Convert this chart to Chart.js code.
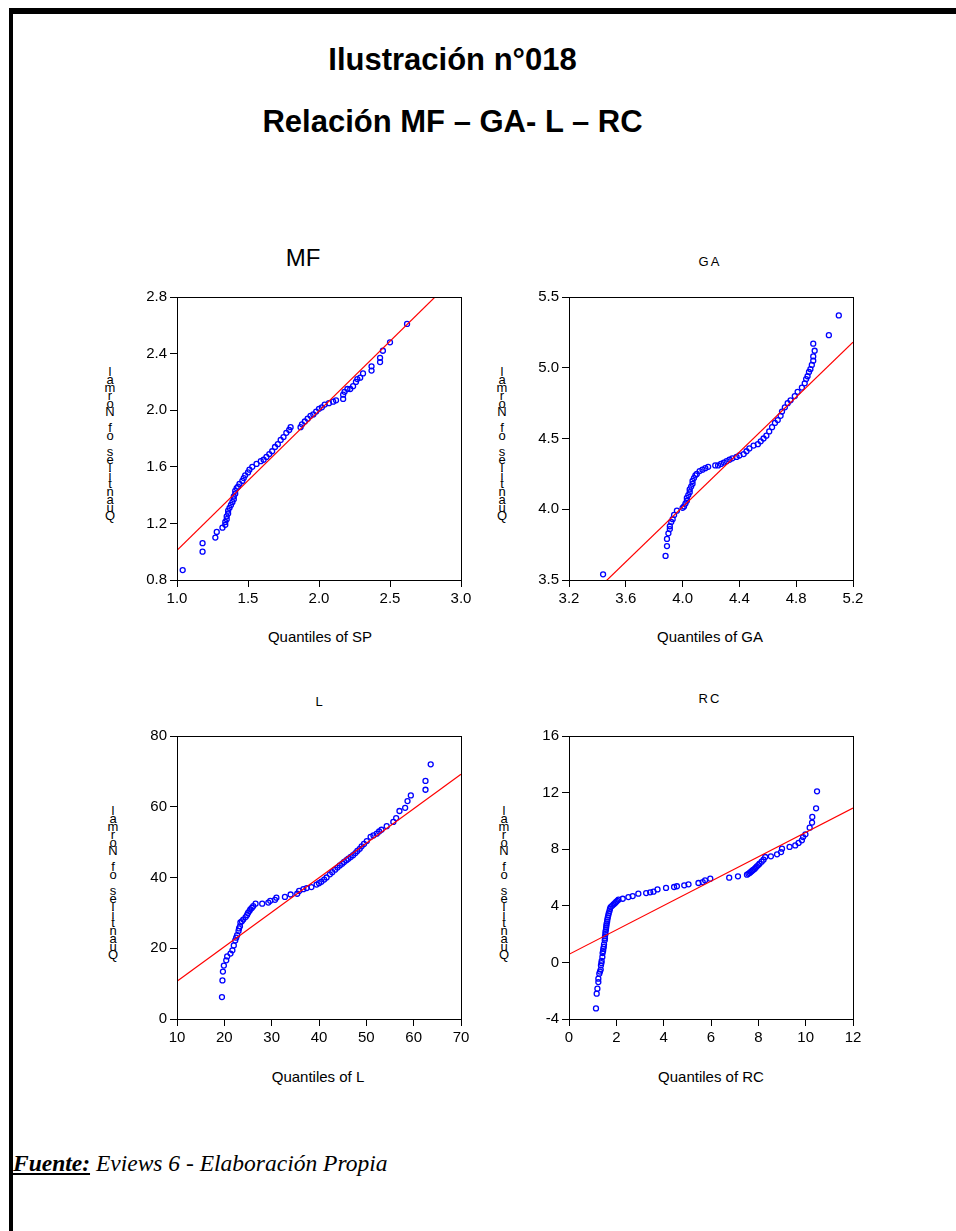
<!DOCTYPE html>
<html>
<head>
<meta charset="utf-8">
<script src="https://cdn.jsdelivr.net/npm/chart.js@4/dist/chart.umd.min.js"></script>
<style>
  body { margin: 0; background: #fff; width: 956px; height: 1231px; position: relative; overflow: hidden; font-family: 'Liberation Sans', Arial, sans-serif; }
  .frame-top { position: absolute; left: 9px; top: 8px; width: 947px; height: 6px; background: #000; }
  .frame-left { position: absolute; left: 9px; top: 8px; width: 4px; height: 1223px; background: #000; }
  .title { position: absolute; left: 0; width: 905px; text-align: center; font-weight: bold; font-size: 31px; line-height: 40px; color: #000; }
  .ptitle { position: absolute; width: 200px; text-align: center; color: #000; }
  .xtitle { position: absolute; width: 200px; text-align: center; font-size: 15px; line-height: 18px; color: #000; }
  .ytitle { position: absolute; width: 28px; text-align: center; font-size: 13px; line-height: 8px; white-space: pre; color: #000; }
  canvas { position: absolute; }
  .source { position: absolute; left: 13px; top: 1149px; font-family: 'Liberation Serif', 'Times New Roman', serif; font-style: italic; font-size: 23.5px; line-height: 28px; color: #000; }
  .source b { text-decoration: underline; }
</style>
</head>
<body>
<div class="frame-top"></div>
<div class="frame-left"></div>
<div class="title" style="top:40px">Ilustración n°018</div>
<div class="title" style="top:102px">Relación MF – GA- L – RC</div>

<div class="ptitle" style="left:203px;top:244px;font-size:24px;line-height:28px">MF</div>
<div class="ptitle" style="left:610px;top:253px;font-size:13px;line-height:18px;letter-spacing:2px">GA</div>
<div class="ptitle" style="left:219px;top:693px;font-size:13px;line-height:18px">L</div>
<div class="ptitle" style="left:610px;top:690px;font-size:13px;line-height:18px;letter-spacing:2px">RC</div>

<div class="xtitle" style="left:220px;top:628px">Quantiles of SP</div>
<div class="xtitle" style="left:610px;top:628px">Quantiles of GA</div>
<div class="xtitle" style="left:218px;top:1068px">Quantiles of L</div>
<div class="xtitle" style="left:611px;top:1068px">Quantiles of RC</div>

<div class="ytitle" style="left:96px;top:368px"></div>
<div class="ytitle" style="left:488px;top:368px"></div>
<div class="ytitle" style="left:99px;top:807px"></div>
<div class="ytitle" style="left:490px;top:807px"></div>

<canvas id="mfChart" width="364" height="338" style="left:117px;top:277px"></canvas>
<canvas id="gaChart" width="364" height="338" style="left:509px;top:277px"></canvas>
<canvas id="lChart" width="364" height="338" style="left:117px;top:716px"></canvas>
<canvas id="rcChart" width="364" height="338" style="left:509px;top:716px"></canvas>

<div class="source"><b>Fuente:</b> Eviews 6 - Elaboración Propia</div>

<script>
// MF: quantiles of SP (x) against quantiles of normal (y)
const mfSample = [1.04, 1.18, 1.18, 1.27, 1.28, 1.32, 1.34, 1.34, 1.35, 1.35, 1.36, 1.36, 1.37, 1.38, 1.39, 1.40, 1.40, 1.41, 1.41, 1.42, 1.43, 1.44, 1.46, 1.47, 1.48, 1.50, 1.51, 1.53, 1.56, 1.59, 1.61, 1.63, 1.65, 1.67, 1.69, 1.71, 1.73, 1.75, 1.77, 1.79, 1.80, 1.87, 1.88, 1.90, 1.92, 1.94, 1.96, 1.98, 2.00, 2.02, 2.04, 2.07, 2.10, 2.12, 2.17, 2.17, 2.18, 2.20, 2.22, 2.24, 2.26, 2.27, 2.29, 2.31, 2.37, 2.37, 2.43, 2.43, 2.45, 2.50, 2.62];
const mfNormal = [0.87, 1.00, 1.06, 1.10, 1.14, 1.17, 1.19, 1.21, 1.23, 1.25, 1.27, 1.29, 1.31, 1.33, 1.35, 1.37, 1.39, 1.41, 1.43, 1.45, 1.46, 1.48, 1.50, 1.52, 1.54, 1.56, 1.58, 1.60, 1.62, 1.64, 1.65, 1.67, 1.69, 1.71, 1.74, 1.76, 1.79, 1.81, 1.84, 1.86, 1.88, 1.88, 1.90, 1.92, 1.94, 1.96, 1.97, 1.99, 2.01, 2.02, 2.04, 2.05, 2.06, 2.07, 2.08, 2.11, 2.13, 2.15, 2.15, 2.17, 2.20, 2.22, 2.23, 2.26, 2.28, 2.31, 2.34, 2.37, 2.42, 2.48, 2.61];
const mfFitX = [1.0, 3.0];
const mfFitY = [1.01, 2.98];
const mfXTicks = [1.0, 1.5, 2.0, 2.5, 3.0];
const mfYTicks = [0.8, 1.2, 1.6, 2.0, 2.4, 2.8];

// GA
const gaSample = [3.44, 3.88, 3.89, 3.89, 3.90, 3.91, 3.91, 3.92, 3.93, 3.94, 3.96, 4.00, 4.01, 4.02, 4.03, 4.03, 4.04, 4.05, 4.05, 4.06, 4.07, 4.07, 4.08, 4.09, 4.10, 4.12, 4.14, 4.16, 4.18, 4.23, 4.25, 4.27, 4.29, 4.31, 4.33, 4.35, 4.38, 4.40, 4.43, 4.45, 4.47, 4.50, 4.53, 4.55, 4.57, 4.59, 4.61, 4.63, 4.65, 4.67, 4.69, 4.70, 4.72, 4.74, 4.76, 4.79, 4.81, 4.84, 4.86, 4.87, 4.88, 4.89, 4.90, 4.91, 4.92, 4.92, 4.93, 4.92, 5.03, 5.10];
const gaNormal = [3.54, 3.67, 3.74, 3.79, 3.83, 3.86, 3.88, 3.91, 3.93, 3.96, 3.99, 4.01, 4.02, 4.04, 4.06, 4.08, 4.10, 4.12, 4.14, 4.16, 4.18, 4.20, 4.22, 4.24, 4.25, 4.27, 4.28, 4.29, 4.30, 4.31, 4.31, 4.32, 4.33, 4.34, 4.35, 4.36, 4.37, 4.38, 4.39, 4.41, 4.43, 4.45, 4.46, 4.48, 4.50, 4.52, 4.55, 4.58, 4.61, 4.63, 4.66, 4.69, 4.72, 4.75, 4.77, 4.80, 4.83, 4.86, 4.89, 4.92, 4.94, 4.97, 4.99, 5.02, 5.05, 5.08, 5.12, 5.17, 5.23, 5.37];
const gaFitX = [3.2, 5.2];
const gaFitY = [3.24, 5.18];
const gaXTicks = [3.2, 3.6, 4.0, 4.4, 4.8, 5.2];
const gaYTicks = [3.5, 4.0, 4.5, 5.0, 5.5];

// L
const lSample = [19.5, 19.6, 19.7, 19.9, 20.4, 20.6, 21.3, 21.7, 22.0, 22.3, 22.5, 22.7, 23.0, 23.1, 23.3, 23.4, 23.7, 24.0, 24.5, 24.8, 25.0, 25.3, 25.5, 25.8, 26.1, 26.6, 28.0, 29.3, 29.7, 30.7, 31.0, 32.8, 34.0, 35.4, 35.8, 36.7, 37.4, 38.4, 39.5, 40.0, 40.5, 41.1, 41.6, 42.3, 42.8, 43.4, 43.9, 44.4, 44.9, 45.3, 45.8, 46.2, 46.7, 47.2, 47.7, 48.1, 48.6, 49.0, 49.5, 50.1, 50.9, 51.5, 52.2, 52.7, 53.2, 54.3, 55.7, 56.3, 57.0, 58.2, 58.7, 59.4, 62.5, 62.5, 63.6];
const lNormal = [6.2, 10.9, 13.4, 15.1, 16.6, 17.7, 18.5, 19.4, 20.8, 22.2, 23.0, 23.7, 24.9, 25.6, 26.2, 27.3, 27.6, 28.1, 28.8, 29.4, 30.0, 30.5, 31.0, 31.4, 31.9, 32.6, 32.6, 32.9, 33.4, 33.7, 34.3, 34.5, 35.2, 35.4, 36.2, 36.7, 37.0, 37.3, 38.0, 38.4, 38.8, 39.4, 40.0, 40.9, 41.5, 42.2, 42.8, 43.4, 43.9, 44.4, 44.9, 45.3, 45.8, 46.3, 46.9, 47.5, 48.1, 48.8, 49.5, 50.3, 51.5, 51.9, 52.4, 53.0, 53.5, 54.5, 55.7, 56.8, 58.8, 59.7, 61.6, 63.2, 64.8, 67.3, 72.0];
const lFitX = [10, 70];
const lFitY = [10.7, 69.2];
const lXTicks = [10, 20, 30, 40, 50, 60, 70];
const lYTicks = [0, 20, 40, 60, 80];

// RC
const rcSample = [1.14, 1.17, 1.20, 1.24, 1.24, 1.28, 1.31, 1.34, 1.35, 1.37, 1.38, 1.41, 1.42, 1.44, 1.45, 1.47, 1.48, 1.51, 1.52, 1.52, 1.54, 1.54, 1.56, 1.57, 1.58, 1.59, 1.61, 1.62, 1.64, 1.66, 1.68, 1.71, 1.73, 1.76, 1.82, 1.88, 1.94, 1.99, 2.04, 2.09, 2.27, 2.51, 2.69, 2.93, 3.26, 3.43, 3.57, 3.74, 4.10, 4.44, 4.56, 4.87, 5.05, 5.47, 5.65, 5.75, 5.97, 6.77, 7.14, 7.52, 7.58, 7.63, 7.68, 7.73, 7.78, 7.84, 7.89, 7.94, 8.00, 8.05, 8.14, 8.22, 8.29, 8.53, 8.79, 8.96, 9.00, 9.32, 9.56, 9.70, 9.84, 9.89, 9.99, 10.17, 10.27, 10.28, 10.44, 10.48];
const rcNormal = [-3.25, -2.21, -1.86, -1.39, -1.15, -0.80, -0.65, -0.51, -0.21, -0.05, 0.10, 0.38, 0.66, 0.80, 0.95, 1.10, 1.28, 1.56, 1.70, 1.84, 2.00, 2.15, 2.30, 2.46, 2.60, 2.74, 2.88, 3.02, 3.18, 3.33, 3.48, 3.63, 3.78, 3.91, 4.00, 4.10, 4.18, 4.27, 4.35, 4.43, 4.50, 4.62, 4.69, 4.86, 4.90, 4.95, 5.00, 5.16, 5.26, 5.33, 5.38, 5.45, 5.52, 5.61, 5.68, 5.80, 5.92, 5.99, 6.08, 6.20, 6.26, 6.32, 6.39, 6.46, 6.53, 6.60, 6.70, 6.79, 6.88, 6.98, 7.12, 7.26, 7.45, 7.50, 7.64, 7.80, 8.04, 8.16, 8.27, 8.44, 8.63, 8.86, 9.05, 9.52, 9.88, 10.28, 10.89, 12.09];
const rcFitX = [0, 12];
const rcFitY = [0.57, 10.91];
const rcXTicks = [0, 2, 4, 6, 8, 10, 12];
const rcYTicks = [-4, 0, 4, 8, 12, 16];

Chart.defaults.font.family = "'Liberation Sans', Arial, sans-serif";
Chart.defaults.font.size = 15;
Chart.defaults.color = '#000';

const boxPlugin = {
  id: 'plotBox',
  afterDraw(chart) {
    const { ctx, chartArea } = chart;
    ctx.save();
    ctx.strokeStyle = '#000';
    ctx.lineWidth = 1;
    ctx.strokeRect(Math.round(chartArea.left) + 0.5, Math.round(chartArea.top) + 0.5,
      Math.round(chartArea.right - chartArea.left), Math.round(chartArea.bottom - chartArea.top));
    ctx.restore();
  }
};

const toPoints = (xs, ys) => xs.map((x, i) => ({ x, y: ys[i] }));

const axis = (ticks, decimals, isX) => ({
  type: 'linear',
  min: ticks[0],
  max: ticks[ticks.length - 1],
  border: { display: true, color: '#000', width: 1 },
  grid: {
    drawOnChartArea: false,
    drawTicks: true,
    tickLength: 7,
    color: '#000'
  },
  ticks: {
    stepSize: ticks[1] - ticks[0],
    padding: 3,
    maxRotation: 0,
    autoSkip: false,
    callback(value) {
      return Number(value).toFixed(decimals);
    }
  },
  afterFit(scale) {
    if (isX) {
      scale.height = 35;
    } else {
      scale.width = 60;
    }
  }
});

function makeQQ(id, xs, ys, fitX, fitY, xTicks, yTicks, decimals) {
  const canvas = document.getElementById(id);
  return new Chart(canvas.getContext('2d'), {
    type: 'scatter',
    data: {
      datasets: [
        {
          type: 'line',
          data: toPoints(fitX, fitY),
          borderColor: '#ff0000',
          borderWidth: 1.2,
          pointRadius: 0,
          fill: false,
          tension: 0
        },
        {
          data: toPoints(xs, ys),
          borderColor: '#0000ff',
          backgroundColor: 'rgba(0,0,0,0)',
          borderWidth: 1.3,
          pointRadius: 2.5,
          pointHoverRadius: 2.5
        }
      ]
    },
    options: {
      responsive: false,
      animation: false,
      devicePixelRatio: 1,
      layout: {
        autoPadding: false,
        padding: { top: 20, right: 20, left: 0, bottom: 0 }
      },
      plugins: {
        legend: { display: false },
        tooltip: { enabled: false }
      },
      scales: {
        x: axis(xTicks, decimals, true),
        y: axis(yTicks, decimals, false)
      }
    },
    plugins: [boxPlugin]
  });
}

makeQQ('mfChart', mfSample, mfNormal, mfFitX, mfFitY, mfXTicks, mfYTicks, 1);
makeQQ('gaChart', gaSample, gaNormal, gaFitX, gaFitY, gaXTicks, gaYTicks, 1);
makeQQ('lChart', lSample, lNormal, lFitX, lFitY, lXTicks, lYTicks, 0);
makeQQ('rcChart', rcSample, rcNormal, rcFitX, rcFitY, rcXTicks, rcYTicks, 0);

// stacked y-axis caption, as Eviews prints it
const yCaption = 'Quantiles of Normal'.split('').reverse().join('\n');
document.querySelectorAll('.ytitle').forEach((el) => {
  el.textContent = yCaption;
});
</script>
</body>
</html>
